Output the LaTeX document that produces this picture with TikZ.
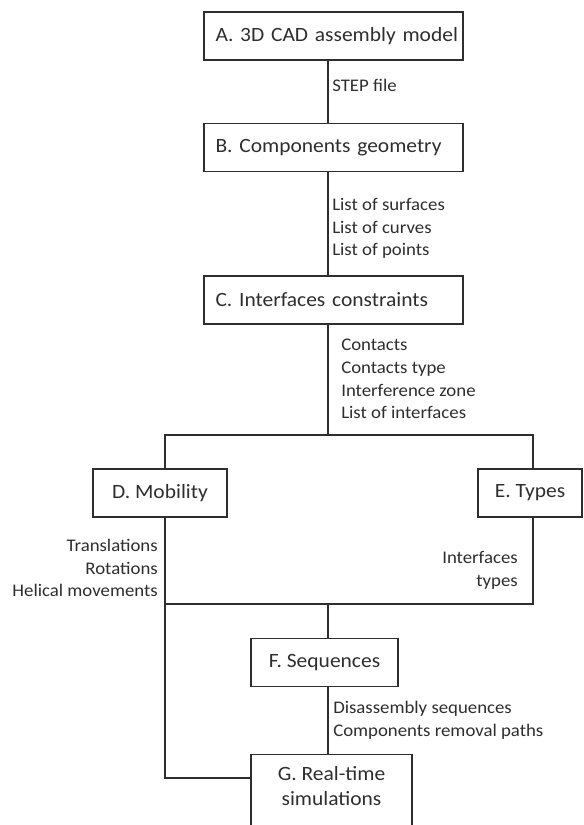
\documentclass[tikz,border=0pt]{standalone}
\usepackage{fontspec}
\setmainfont{Carlito}[FakeStretch=1.06]
\definecolor{ink}{HTML}{2E2E2E}
\begin{document}
\begin{tikzpicture}[x=0.75pt,y=-0.75pt,
  box/.style={draw=ink,line width=1.1pt,text=ink,minimum height=36pt,inner ysep=0pt,font=\fontsize{15.2pt}{18.75pt}\selectfont},
  wide/.style={box,text width=177pt,inner xsep=8.625pt,align=left},
  note/.style={text=ink,inner sep=0pt,font=\fontsize{13.3pt}{17pt}\selectfont},
  wire/.style={draw=ink,line width=1.1pt}]
\useasboundingbox (0,0) rectangle (583,825);
\node[wide] (A) at (333.5,36) {\mbox{A. 3D CAD assembly model}};
\node[wide] (B) at (333.5,147.5) {B. Components geometry};
\node[wide] (C) at (333.5,300) {C. Interfaces constraints};
\node[box,minimum width=100.5pt] (D) at (160,493) {D. Mobility};
\node[box,minimum width=78pt] (E) at (530,493) {E. Types};
\node[box,minimum width=110.25pt] (F) at (324.5,662.5) {F. Sequences};
\node[box,minimum width=120.75pt,anchor=north,align=center,inner ysep=9pt,text depth=50pt] (G) at (331.5,754) {G. Real-time\\simulations};
\node[note,anchor=north west,align=left] (stepnote) at (332,79) {STEP file};
\node[note,anchor=north west,align=left] (geomnote) at (332,198) {List of surfaces\\List of curves\\List of points};
\node[note,anchor=north west,align=left] (constrnote) at (341,339) {Contacts\\Contacts type\\Interference zone\\List of interfaces};
\node[note,anchor=north east,align=right] (mobnote) at (158,539) {Translations\\Rotations\\Helical movements};
\node[note,anchor=north east,align=right] (typenote) at (518,551) {Interfaces\\types};
\node[note,anchor=north west,align=left] (seqnote) at (333,701) {Disassembly sequences\\Components removal paths};
\coordinate (stem) at (328,0);
\coordinate (split) at (328,435);
\coordinate (join) at (328,604);
\coordinate (lt) at (165,435);
\coordinate (rt) at (533,435);
\coordinate (lb) at (165,604);
\coordinate (rb) at (533,604);
\coordinate (lg) at (165,778);
\draw[wire] (A.south -| stem) -- (B.north -| stem);
\draw[wire] (B.south -| stem) -- (C.north -| stem);
\draw[wire] (C.south -| stem) -- (split);
\draw[wire] (D.north -| lt) -- (lt) -- (rt) -- (E.north -| rt);
\draw[wire] (D.south -| lt) -- (lg) -- (lg -| G.west);
\draw[wire] (lb) -- (rb) -- (E.south -| rb);
\draw[wire] (join) -- (F.north -| join);
\draw[wire] (F.south -| join) -- (G.north -| join);
\end{tikzpicture}
\end{document}
